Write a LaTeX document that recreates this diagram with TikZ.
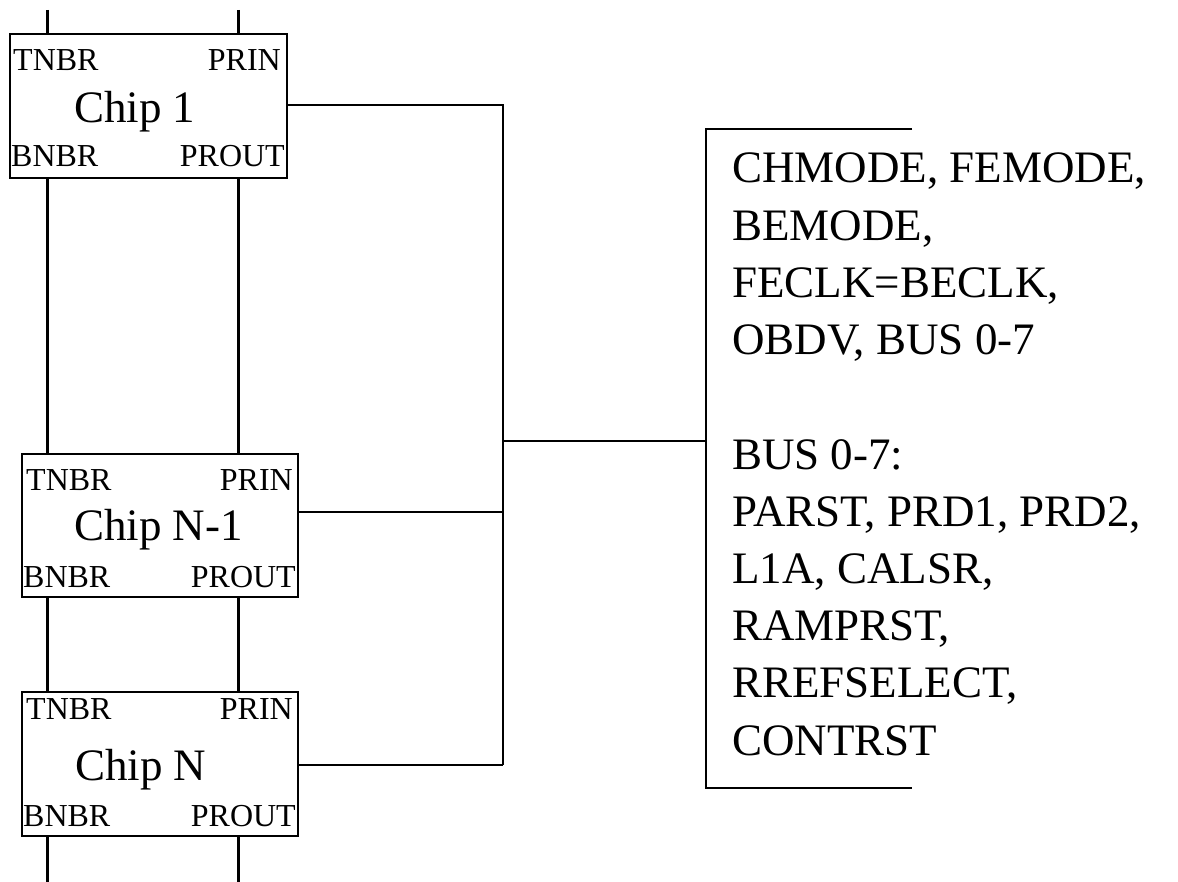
\documentclass[tikz,border=0pt]{standalone}
\usepackage{fontspec}
\setmainfont{Liberation Serif}
\begin{document}
\begin{tikzpicture}[x=1pt,y=-1pt,
  thin line/.style={line width=2pt},
  wire/.style={line width=3pt},
  chipbox/.style={draw,line width=2pt,rectangle,inner sep=0pt},
  pinlbl/.style={inner sep=0pt,font=\fontsize{32}{36}\selectfont},
  chiplbl/.style={inner sep=0pt,anchor=base west,font=\fontsize{45}{50}\selectfont},
  siglbl/.style={inner sep=0pt,anchor=base west,font=\fontsize{45}{50}\selectfont}]
\useasboundingbox (0,0) rectangle (1178,882);
\fill[white] (0,0) rectangle (1178,882);

% chips
\node[chipbox,minimum width=277pt,minimum height=144pt] (c1) at (148.5,106) {};
\node[chipbox,minimum width=276pt,minimum height=143pt] (cm) at (160,525.5) {};
\node[chipbox,minimum width=276pt,minimum height=144pt] (cn) at (160,764) {};

% chip labels
\node[pinlbl,anchor=base west] (c1tn) at (13,71) {TNBR};
\node[pinlbl,anchor=base east] (c1pi) at (281,71) {PRIN};
\node[chiplbl] (c1t) at (74,123) {Chip 1};
\node[pinlbl,anchor=base west] (c1bn) at (11,167) {BNBR};
\node[pinlbl,anchor=base east] (c1po) at (285,167) {PROUT};

\node[pinlbl,anchor=base west] (cmtn) at (26,490) {TNBR};
\node[pinlbl,anchor=base east] (cmpi) at (293,490) {PRIN};
\node[chiplbl] (cmt) at (74,540) {Chip N-1};
\node[pinlbl,anchor=base west] (cmbn) at (23,587) {BNBR};
\node[pinlbl,anchor=base east] (cmpo) at (296,587) {PROUT};

\node[pinlbl,anchor=base west] (cntn) at (26,719) {TNBR};
\node[pinlbl,anchor=base east] (cnpi) at (293,719) {PRIN};
\node[chiplbl] (cnt) at (75,780) {Chip N};
\node[pinlbl,anchor=base west] (cnbn) at (23,826) {BNBR};
\node[pinlbl,anchor=base east] (cnpo) at (296,826) {PROUT};

% vertical neighbour / priority wires
\coordinate (lt) at (47,10);
\coordinate (rt) at (238,10);
\coordinate (lb) at (47,882);
\coordinate (rb) at (238,882);
\draw[wire] (lt) -- (lt |- c1.north);
\draw[wire] (rt) -- (rt |- c1.north);
\draw[wire] (lt |- c1.south) -- (lt |- cm.north);
\draw[wire] (rt |- c1.south) -- (rt |- cm.north);
\draw[wire] (lt |- cm.south) -- (lt |- cn.north);
\draw[wire] (rt |- cm.south) -- (rt |- cn.north);
\draw[wire] (lt |- cn.south) -- (lb);
\draw[wire] (rt |- cn.south) -- (rb);

% bus
\coordinate (b1) at (503,105);
\coordinate (bm) at (503,512);
\coordinate (bn) at (503,765);
\coordinate (bc) at (503,441);
\draw[thin line] (c1.east |- b1) -- (b1) -- (bn);
\draw[thin line] (cm.east |- bm) -- (bm);
\draw[thin line] (cn.east |- bn) -- (bn);

% bracket
\coordinate (kt) at (912,129);
\coordinate (ktl) at (706,129);
\coordinate (kbl) at (706,788);
\coordinate (kb) at (912,788);
\coordinate (kc) at (706,441);
\draw[thin line] (kt) -- (ktl) -- (kbl) -- (kb);
\draw[thin line] (bc) -- (kc);

% signal list
\node[siglbl] (s0) at (732,183.0) {CHMODE, FEMODE,};
\node[siglbl] (s1) at (732,240.2) {BEMODE,};
\node[siglbl] (s2) at (732,297.4) {FECLK=BECLK,};
\node[siglbl] (s3) at (732,354.6) {OBDV, BUS 0-7};
\node[siglbl] (s5) at (732,469.0) {BUS 0-7:};
\node[siglbl] (s6) at (732,526.2) {PARST, PRD1, PRD2,};
\node[siglbl] (s7) at (732,583.4) {L1A, CALSR,};
\node[siglbl] (s8) at (732,640.6) {RAMPRST,};
\node[siglbl] (s9) at (732,697.8) {RREFSELECT,};
\node[siglbl] (s10) at (732,755.0) {CONTRST};
\end{tikzpicture}
\end{document}
